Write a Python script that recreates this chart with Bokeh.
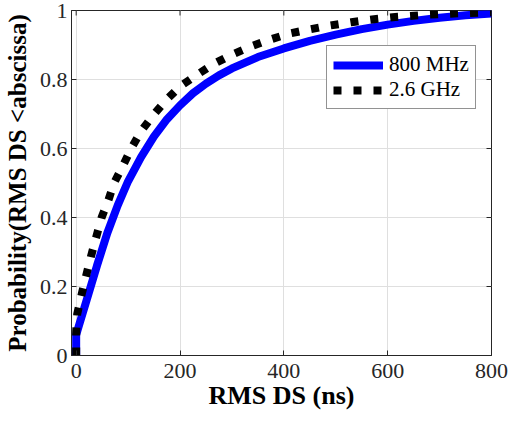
from math import pi
from bokeh.plotting import figure
from bokeh.models import (Range1d, FixedTicker, Legend, LegendItem,
                          CustomJSTickFormatter)
from bokeh.embed import file_html
from bokeh.resources import INLINE

# data
x_800 = [0, 0, 4, 20, 40, 60, 80, 100, 125, 150, 175, 200, 225, 250, 275, 300,
         350, 400, 450, 500, 550, 600, 650, 700, 750, 800]
y_800 = [0, 0.06, 0.08, 0.16, 0.26, 0.355, 0.435, 0.505, 0.575, 0.635, 0.685,
         0.725, 0.76, 0.788, 0.812, 0.832, 0.865, 0.89, 0.912, 0.93, 0.946,
         0.959, 0.97, 0.979, 0.986, 0.991]
x_26 = [0, 0, 2, 11, 19, 29, 38, 49, 62, 73, 90, 106, 125, 148, 173, 200, 233,
        266, 300, 337, 374, 410, 449, 487, 530, 570, 620, 680, 740, 800]
y_26 = [0, 0.07, 0.12, 0.18, 0.23, 0.29, 0.34, 0.40, 0.45, 0.50, 0.55, 0.60,
        0.65, 0.696, 0.74, 0.78, 0.814, 0.846, 0.872, 0.896, 0.916, 0.933,
        0.945, 0.956, 0.966, 0.974, 0.982, 0.988, 0.992, 0.995]
x_ticks = [0, 200, 400, 600, 800]
y_ticks = [0, 0.2, 0.4, 0.6, 0.8, 1]
series_names = ["800 MHz", "2.6 GHz"]

SERIF = "Liberation Serif"
X_START, X_END, Y_START, Y_END = -9, 800, 0, 1

p = figure(width=511, height=421, output_backend="svg", toolbar_location=None,
           x_range=Range1d(X_START, X_END), y_range=Range1d(Y_START, Y_END),
           min_border_left=71, min_border_right=20, min_border_top=10,
           min_border_bottom=66)
p.background_fill_color = "white"
p.border_fill_color = "white"
p.outline_line_color = "#262626"
p.outline_line_width = 1

fmt = CustomJSTickFormatter(code="return String(Math.round(tick*10)/10)")

for ax in p.xaxis:
    ax.ticker = FixedTicker(ticks=x_ticks)
for ax in p.yaxis:
    ax.ticker = FixedTicker(ticks=y_ticks)
    ax.formatter = fmt

for ax in list(p.xaxis) + list(p.yaxis):
    ax.major_tick_in = 5
    ax.major_tick_out = 0
    ax.minor_tick_line_color = None
    ax.axis_line_color = "#262626"
    ax.major_tick_line_color = "#262626"
    ax.major_label_text_font = SERIF
    ax.major_label_text_font_size = "22px"
    ax.major_label_text_color = "#262626"
    ax.axis_label_text_font = SERIF
    ax.axis_label_text_font_style = "bold"
    ax.axis_label_text_color = "black"

p.xaxis.axis_label = "RMS DS (ns)"
p.yaxis.axis_label = "Probability(RMS DS <abscissa)"
p.xaxis.axis_label_text_font_size = "26px"
p.yaxis.axis_label_text_font_size = "25px"
p.xaxis.major_label_standoff = 8
p.xaxis.axis_label_standoff = 0
p.yaxis.major_label_standoff = 4
p.yaxis.axis_label_standoff = 6

p.xgrid.ticker = FixedTicker(ticks=x_ticks)
p.ygrid.ticker = FixedTicker(ticks=y_ticks)
p.grid.grid_line_color = "#dfdfdf"
p.grid.grid_line_width = 1

# mirrored inward ticks on the top and right edges of the box
p.scatter(x_ticks, [Y_END] * len(x_ticks), marker="dash", angle=pi / 2,
          size=10, line_color="#262626", line_width=1)
p.scatter([X_END] * len(y_ticks), y_ticks, marker="dash", size=10,
          line_color="#262626", line_width=1)

r1 = p.line(x_800, y_800, line_color="#0000ff", line_width=8)
r2 = p.line(x_26, y_26, line_color="black", line_width=8, line_dash="8 12")

legend = Legend(items=[LegendItem(label=series_names[0], renderers=[r1]),
                       LegendItem(label=series_names[1], renderers=[r2])],
                location=(255, 246), orientation="vertical")
legend.border_line_color = "#262626"
legend.border_line_width = 1
legend.background_fill_color = "white"
legend.background_fill_alpha = 1
legend.padding = 6
legend.margin = 0
legend.spacing = 0
legend.glyph_width = 50
legend.glyph_height = 22
legend.label_height = 22
legend.label_standoff = 6
legend.label_text_font = SERIF
legend.label_text_font_size = "21px"
legend.label_text_color = "black"
p.add_layout(legend, "center")

open("out.html", "w").write(file_html(p, INLINE))
